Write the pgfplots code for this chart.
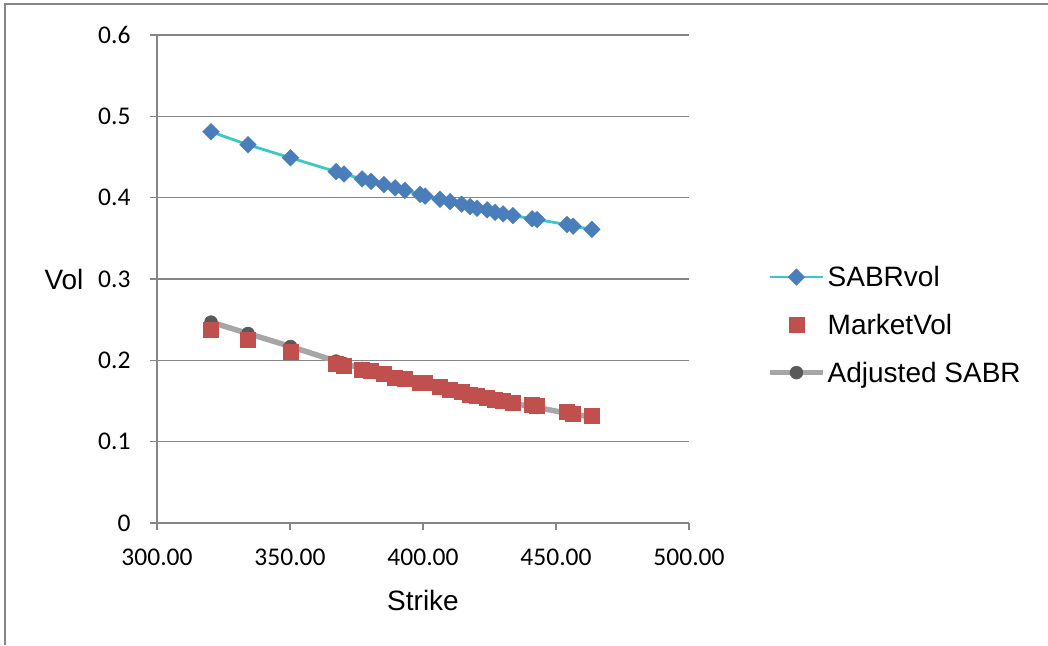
\documentclass[border=0pt]{standalone}
\usepackage{pgfplots}
\pgfplotsset{compat=1.18}
\usepackage{pgfplotstable}
\usepackage{fontspec}
\setmainfont{Liberation Sans}
\newfontfamily\carlito{Carlito}
\definecolor{sabrline}{RGB}{60,200,200}
\definecolor{sabrmark}{RGB}{74,126,187}
\definecolor{mktmark}{RGB}{192,80,77}
\definecolor{adjline}{RGB}{166,166,166}
\definecolor{adjmark}{RGB}{89,89,89}
\definecolor{axisgray}{RGB}{134,134,134}
\pgfplotstableread{
K sabr mkt adj
320.3 0.481 0.238 0.247
334.2 0.465 0.225 0.233
350.2 0.449 0.211 0.217
367.3 0.432 0.196 0.199
370.3 0.429 0.194 0.196
377.1 0.423 0.189 0.190
380.5 0.420 0.187 0.187
385.3 0.416 0.183 0.183
389.5 0.412 0.179 0.179
393.2 0.409 0.177 0.176
398.9 0.404 0.173 0.172
400.8 0.402 0.172 0.171
406.4 0.398 0.167 0.166
410.2 0.395 0.164 0.163
414.5 0.392 0.161 0.160
417.7 0.389 0.158 0.157
420.3 0.387 0.156 0.155
424.1 0.385 0.154 0.153
427.1 0.382 0.152 0.151
430.1 0.380 0.150 0.149
433.8 0.378 0.148 0.147
441.0 0.374 0.145 0.143
442.9 0.373 0.144 0.142
454.1 0.367 0.137 0.135
456.4 0.365 0.135 0.134
463.5 0.361 0.132 0.130
}\data
\begin{document}
\begin{tikzpicture}
\path[use as bounding box] (0pt,0pt) rectangle (1048pt,645pt);
\draw[draw=axisgray, line width=1.6pt] (5pt,0pt) -- (5pt,641pt) -- (1048pt,641pt);
\begin{axis}[
  at={(157pt,122pt)}, anchor=south west,
  scale only axis, width=532pt, height=488pt,
  xmin=300, xmax=500, ymin=0, ymax=0.6,
  xtick={300,350,400,450,500},
  xticklabels={300.00,350.00,400.00,450.00,500.00},
  ytick={0,0.1,0.2,0.3,0.4,0.5,0.6},
  yticklabels={0,0.1,0.2,0.3,0.4,0.5,0.6},
  axis x line*=bottom, axis y line*=left,
  axis line style={-, draw=axisgray, line width=1.3pt},
  ymajorgrids, major grid style={draw=axisgray, line width=1.3pt},
  tick style={draw=axisgray, line width=1.3pt},
  tick align=outside, major tick length=7pt,
  ticklabel style={font=\carlito\fontsize{25.5}{30}\selectfont, text=black},
  xticklabel style={yshift=-15pt},
  yticklabel style={xshift=-16pt},
  xlabel={Strike}, ylabel={Vol},
  every axis x label/.style={at={(axis description cs:0.5,0)}, yshift=-77pt, anchor=center, font=\fontsize{28}{33}\selectfont},
  every axis y label/.style={at={(axis description cs:0,0.5)}, xshift=-93pt, anchor=center, font=\fontsize{28}{33}\selectfont},
  legend image code/.code={\draw[mark repeat=2,mark phase=2,#1] plot coordinates {(0pt,0pt) (26.5pt,0pt) (53pt,0pt)};},
  legend style={at={(axis description cs:1.1466,0.406)}, anchor=west, draw=none, fill=none,
    font=\fontsize{28}{33}\selectfont, row sep=22pt, inner sep=0pt,
    nodes={inner sep=2pt}},
  legend cell align=left,
  clip=false,
]
\addplot[color=sabrline, line width=2.8pt, mark=square*, mark size=5.9pt,
  mark options={rotate=45, solid, fill=sabrmark, draw=sabrmark, line width=0.4pt}]
  table[x=K, y=sabr] {\data};
\addlegendentry{SABRvol}
\addplot[forget plot, color=adjline, line width=5.5pt, mark=*, mark size=6.5pt,
  mark options={solid, fill=adjmark, draw=adjmark, line width=0.4pt}]
  table[x=K, y=adj] {\data};
\addplot[only marks, mark=square*, mark size=7.5pt,
  mark options={fill=mktmark, draw=mktmark, line width=0.4pt}]
  table[x=K, y=mkt] {\data};
\addlegendentry{MarketVol}
\addlegendimage{color=adjline, line width=5.5pt, mark=*, mark size=6.5pt,
  mark options={solid, fill=adjmark, draw=adjmark, line width=0.4pt}}
\addlegendentry{Adjusted SABR}
\end{axis}
\end{tikzpicture}
\end{document}
